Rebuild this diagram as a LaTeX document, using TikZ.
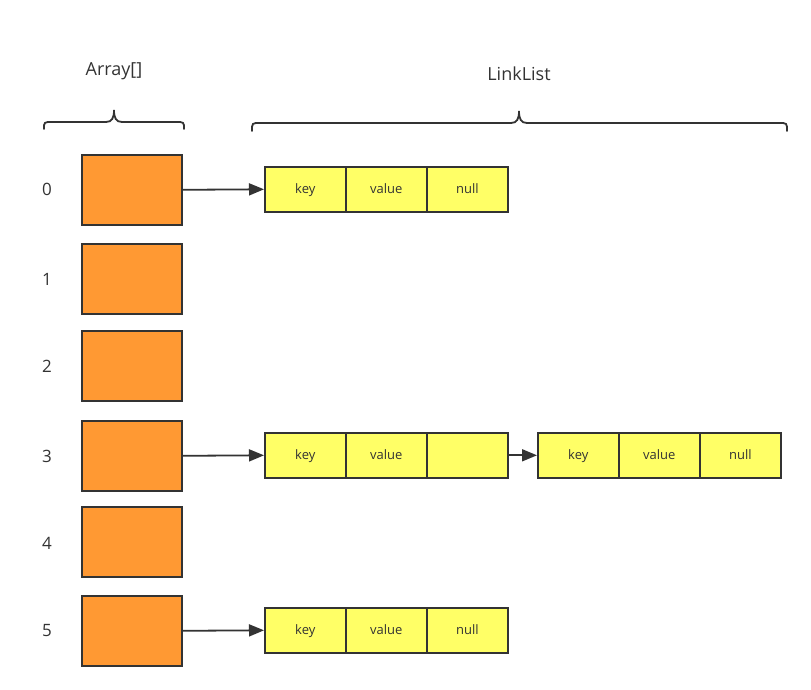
\documentclass[tikz,border=0pt]{standalone}
\usepackage{fontspec}
\setmainfont{Open Sans}
\usetikzlibrary{arrows.meta}
\definecolor{strk}{HTML}{333333}
\definecolor{orng}{HTML}{FF9933}
\definecolor{yell}{HTML}{FFFF66}
\definecolor{txt}{HTML}{333333}
\begin{document}
\begin{tikzpicture}[x=1pt,y=-1pt,
  slot/.style={draw=strk,fill=orng,line width=1.6pt,minimum width=100pt,minimum height=70pt,inner sep=0pt,anchor=north west},
  cell/.style={draw=strk,fill=yell,line width=1.6pt,minimum width=81pt,minimum height=45pt,inner sep=0pt,anchor=north west,font=\fontsize{13}{15}\selectfont,text=txt,text height=1.75ex,text depth=0.25ex},
  idx/.style={font=\fontsize{17}{20}\selectfont,text=txt},
  ttl/.style={font=\fontsize{18}{21}\selectfont,text=txt},
  link/.style={draw=strk,line width=1.8pt,-{Triangle[length=15pt,width=12pt]}},
  brc/.style={draw=strk,line width=1.8pt,line cap=round}]
\useasboundingbox (0,0) rectangle (811,690);
% array slots
\node[slot] (a0) at (81,154) {};
\node[slot] (a1) at (81,243) {};
\node[slot] (a2) at (81,330) {};
\node[slot] (a3) at (81,420) {};
\node[slot] (a4) at (81,506) {};
\node[slot] (a5) at (81,595) {};
% indices
\node[idx] (i0) at (47,189) {0};
\node[idx] (i1) at (47,279) {1};
\node[idx] (i2) at (47,366) {2};
\node[idx] (i3) at (47,456) {3};
\node[idx] (i4) at (47,543) {4};
\node[idx] (i5) at (47,631) {5};
% titles
\node[ttl] (tArr) at (114,71) {Array[]};
\node[ttl] (tLL) at (519,74) {LinkList};
% braces
\draw[brc] (44,129) .. controls (44,122) .. (52,122) -- (106,122)
  .. controls (112,122) and (114,118) .. (114,110)
  .. controls (114,118) and (116,122) .. (122,122) -- (176,122)
  .. controls (184,122) .. (184,129);
\draw[brc] (252,131) .. controls (252,123) .. (260,123) -- (511,123)
  .. controls (517,123) and (519,119) .. (519,111)
  .. controls (519,119) and (521,123) .. (527,123) -- (779,123)
  .. controls (787,123) .. (787,131);
% row 0 list
\node[cell] (k0) at (264,166) {key};
\node[cell] (v0) at (345,166) {value};
\node[cell] (n0) at (426,166) {null};
% row 3 list
\node[cell] (k3) at (264,432) {key};
\node[cell] (v3) at (345,432) {value};
\node[cell] (n3) at (426,432) {};
\node[cell] (k3b) at (537,432) {key};
\node[cell] (v3b) at (618,432) {value};
\node[cell] (n3b) at (699,432) {null};
% row 5 list
\node[cell] (k5) at (264,607) {key};
\node[cell] (v5) at (345,607) {value};
\node[cell] (n5) at (426,607) {null};
% arrows
\draw[link] (a0.east) -- (k0.west);
\draw[link] (a3.east) -- (k3.west);
\draw[link] (n3.east) -- (k3b.west);
\draw[link] (a5.east) -- (k5.west);
\end{tikzpicture}
\end{document}
